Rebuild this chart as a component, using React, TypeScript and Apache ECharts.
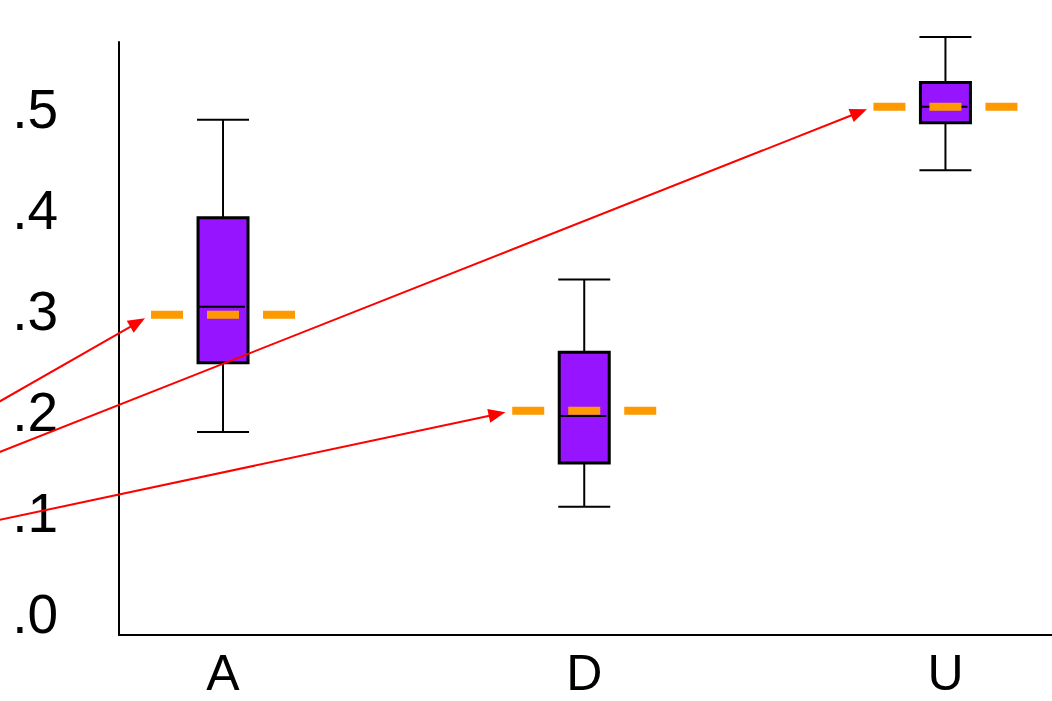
import React, { useEffect, useRef } from 'react';
import * as echarts from 'echarts';

// ---- data ----
const categories = ['A', 'D', 'U'];
const whiskerLow = [0.18, 0.106, 0.439];
const quartile1 = [0.2485, 0.1495, 0.486];
const medians = [0.304, 0.196, 0.502];
const quartile3 = [0.392, 0.259, 0.526];
const whiskerHigh = [0.489, 0.331, 0.571];
const means = [0.296, 0.201, 0.502];
const yTickValues = [0, 0.1, 0.2, 0.3, 0.4, 0.5];
const xTickValues = [0, 1, 2];
// annotation arrows: start point (data coords) -> category whose mean line they point at
const arrowFromX = [-0.62, -0.62, -0.62];
const arrowFromY = [0.21, 0.16, 0.093];
const arrowTarget = [0, 2, 1];

const BOX_HALF = 25;
const CAP_HALF = 26;
const MEAN_HALF = 72;

export default function App() {
  const ref = useRef<HTMLDivElement>(null);
  useEffect(() => {
    if (!ref.current) return;
    const chart = echarts.init(ref.current, null, { renderer: 'svg' });
    const boxData = categories.map((_, i) => [
      i,
      whiskerLow[i],
      quartile1[i],
      medians[i],
      quartile3[i],
      whiskerHigh[i],
      means[i],
    ]);
    const arrowData = arrowTarget.map((t, k) => [arrowFromX[k], arrowFromY[k], t]);
    const font = "'Liberation Sans', Arial, Helvetica, sans-serif";
    chart.setOption({
      animation: false,
      backgroundColor: '#ffffff',
      grid: { left: 119, right: 0, top: 42, bottom: 66, containLabel: false },
      xAxis: {
        type: 'value',
        min: -0.288,
        max: 2.295,
        splitLine: { show: false },
        axisTick: { show: false },
        axisLine: { show: true, onZero: false, lineStyle: { color: '#000', width: 2 } },
        axisLabel: {
          customValues: xTickValues,
          formatter: (v: number) => categories[Math.round(v)] ?? '',
          color: '#000',
          fontSize: 50,
          lineHeight: 44,
          fontFamily: font,
          margin: 16,
        },
      },
      yAxis: {
        type: 'value',
        min: -0.0208,
        max: 0.566,
        splitLine: { show: false },
        axisTick: { show: false },
        axisLine: { show: true, onZero: false, lineStyle: { color: '#000', width: 2 } },
        axisLabel: {
          customValues: yTickValues,
          formatter: (v: number) => v.toFixed(1).replace(/^0/, ''),
          color: '#000',
          fontSize: 55,
          fontFamily: font,
          margin: 61,
        },
      },
      series: [
        {
          type: 'custom',
          clip: false,
          data: boxData,
          encode: { x: 0, y: [1, 2, 3, 4, 5, 6] },
          renderItem: (params: any, api: any) => {
            const i = api.value(0);
            const x = api.coord([i, 0])[0];
            const yLow = api.coord([i, api.value(1)])[1];
            const yQ1 = api.coord([i, api.value(2)])[1];
            const yMed = api.coord([i, api.value(3)])[1];
            const yQ3 = api.coord([i, api.value(4)])[1];
            const yHigh = api.coord([i, api.value(5)])[1];
            const yMean = api.coord([i, api.value(6)])[1];
            const ws = { stroke: '#000', lineWidth: 2 };
            return {
              type: 'group',
              children: [
                { type: 'line', shape: { x1: x, y1: yHigh, x2: x, y2: yQ3 }, style: ws },
                { type: 'line', shape: { x1: x, y1: yQ1, x2: x, y2: yLow }, style: ws },
                { type: 'line', shape: { x1: x - CAP_HALF, y1: yHigh, x2: x + CAP_HALF, y2: yHigh }, style: ws },
                { type: 'line', shape: { x1: x - CAP_HALF, y1: yLow, x2: x + CAP_HALF, y2: yLow }, style: ws },
                {
                  type: 'rect',
                  shape: { x: x - BOX_HALF, y: yQ3, width: BOX_HALF * 2, height: yQ1 - yQ3 },
                  style: { fill: '#9614FF', stroke: '#000', lineWidth: 3 },
                },
                { type: 'line', shape: { x1: x - BOX_HALF, y1: yMed, x2: x + BOX_HALF - 3, y2: yMed }, style: ws },
                {
                  type: 'line',
                  shape: { x1: x - MEAN_HALF, y1: yMean, x2: x + MEAN_HALF, y2: yMean },
                  style: { stroke: '#FF9900', lineWidth: 8, lineDash: [32, 24], lineCap: 'butt' },
                },
              ],
            };
          },
          z: 2,
        },
        {
          type: 'custom',
          clip: false,
          data: arrowData,
          encode: { x: 0, y: 1 },
          renderItem: (params: any, api: any) => {
            const from = api.coord([api.value(0), api.value(1)]);
            const t = api.value(2);
            const c = api.coord([t, means[t]]);
            const tx = c[0] - MEAN_HALF;
            const ty = c[1];
            const dx = tx - from[0];
            const dy = ty - from[1];
            const len = Math.hypot(dx, dy) || 1;
            const ux = dx / len;
            const uy = dy / len;
            const shrink = 7;
            const headLen = 17;
            const headHalf = 7;
            const tip = [tx - ux * shrink, ty - uy * shrink];
            const base = [tip[0] - ux * headLen, tip[1] - uy * headLen];
            const px = -uy;
            const py = ux;
            return {
              type: 'group',
              children: [
                {
                  type: 'line',
                  shape: { x1: from[0], y1: from[1], x2: base[0] + ux * 2, y2: base[1] + uy * 2 },
                  style: { stroke: '#FF0000', lineWidth: 2 },
                },
                {
                  type: 'polygon',
                  shape: {
                    points: [
                      tip,
                      [base[0] + px * headHalf, base[1] + py * headHalf],
                      [base[0] - px * headHalf, base[1] - py * headHalf],
                    ],
                  },
                  style: { fill: '#FF0000' },
                },
              ],
            };
          },
          z: 3,
        },
      ],
    });
    return () => chart.dispose();
  }, []);
  return (
    <div
      ref={ref}
      style={{ position: 'fixed', left: 0, top: 0, width: 1052, height: 701, background: '#fff' }}
    />
  );
}
